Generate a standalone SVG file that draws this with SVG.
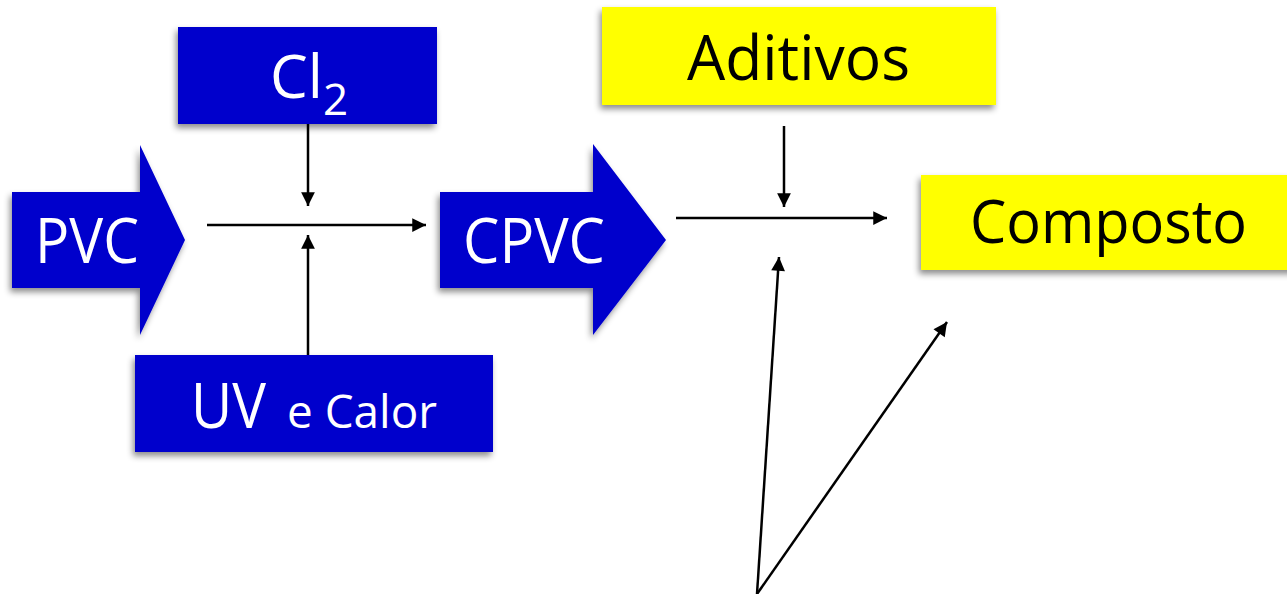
<svg xmlns="http://www.w3.org/2000/svg" width="1287" height="594" viewBox="0 0 1287 594">
<defs>
<style>
.blue{fill:#0000CC;filter:url(#sh)}
.yel{fill:#FFFF00;filter:url(#sh)}
.wt{fill:#FFFFFF;font-family:"Open Sans","Noto Sans",sans-serif}
.bk{fill:#000000;font-family:"Open Sans","Noto Sans",sans-serif}
.ln{stroke:#000;stroke-width:2.5;fill:none}
</style>
<filter id="sh" x="-10%" y="-10%" width="120%" height="130%">
<feDropShadow dx="-2" dy="4" stdDeviation="3" flood-color="#000" flood-opacity="0.45"/>
</filter>
<marker id="ah" viewBox="0 0 10 10" refX="10" refY="5" markerWidth="7" markerHeight="5.5" markerUnits="strokeWidth" orient="auto">
<path d="M0,0 L10,5 L0,10 z" fill="#000"/>
</marker>
</defs>
<g id="pvc">
<path class="blue" d="M12,192 H140 V145 L185,240 L140,335 V288 H12 Z"/>
<text class="wt" x="35" y="263" font-size="62" textLength="104" lengthAdjust="spacingAndGlyphs">PVC</text>
</g>
<g id="cl2">
<rect class="blue" x="178" y="27" width="259" height="97"/>
<text class="wt" x="270" y="98" font-size="60">Cl<tspan font-size="44" y="115">2</tspan></text>
</g>
<g id="uv">
<rect class="blue" x="135" y="355" width="358" height="97"/>
<text class="wt" x="191" y="428" font-size="62" textLength="75" lengthAdjust="spacingAndGlyphs">UV</text>
<text class="wt" x="287" y="428" font-size="46" textLength="150" lengthAdjust="spacingAndGlyphs">e Calor</text>
</g>
<g id="cpvc">
<path class="blue" d="M440,192 H593 V144 L666,240 L593,335 V288 H440 Z"/>
<text class="wt" x="463" y="263" font-size="62" textLength="142" lengthAdjust="spacingAndGlyphs">CPVC</text>
</g>
<g id="aditivos">
<rect class="yel" x="602" y="7" width="394" height="98"/>
<text class="bk" x="687" y="80" font-size="62" textLength="223" lengthAdjust="spacingAndGlyphs">Aditivos</text>
</g>
<g id="composto">
<rect class="yel" x="921" y="175" width="380" height="95"/>
<text class="bk" x="970" y="243" font-size="60" textLength="277" lengthAdjust="spacingAndGlyphs">Composto</text>
</g>
<g id="connectors">
<line class="ln" x1="207" y1="225" x2="426" y2="225" marker-end="url(#ah)"/>
<line class="ln" x1="308" y1="124" x2="308" y2="206" marker-end="url(#ah)"/>
<line class="ln" x1="308" y1="355" x2="308" y2="235" marker-end="url(#ah)"/>
<line class="ln" x1="676" y1="218" x2="887" y2="218" marker-end="url(#ah)"/>
<line class="ln" x1="784" y1="126" x2="784" y2="207" marker-end="url(#ah)"/>
<line class="ln" x1="757" y1="594" x2="779" y2="257" marker-end="url(#ah)"/>
<line class="ln" x1="757" y1="594" x2="947" y2="322" marker-end="url(#ah)"/>
</g>
</svg>
